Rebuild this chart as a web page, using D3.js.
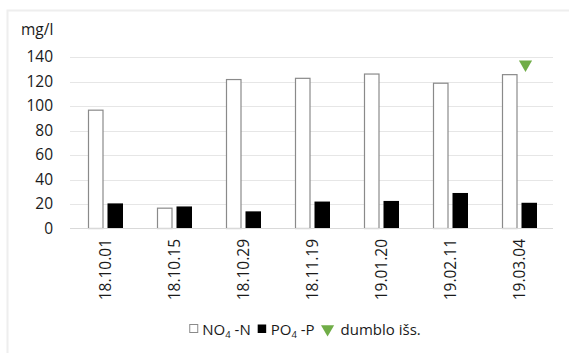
<!DOCTYPE html>
<html>
<head>
<meta charset="utf-8">
<script src="https://cdn.jsdelivr.net/npm/d3@7"></script>
<style>
  html, body { margin: 0; padding: 0; background: #fff; }
  svg { display: block; font-family: "Open Sans", sans-serif; }
</style>
</head>
<body>
<svg id="chart" width="569" height="353"></svg>
<script>
// Sampling dates
const categories = ["18.10.01", "18.10.15", "18.10.29", "18.11.19", "19.01.20", "19.02.11", "19.03.04"];
// NO4-N concentration, mg/l
const no4Values = [97, 17, 122, 123, 126.5, 119, 126];
// PO4-P concentration, mg/l
const po4Values = [20.5, 18, 14, 22, 22.5, 29, 21];
// Sludge release marker (only on the last date)
const sludgeValues = [null, null, null, null, null, null, 134];
// Y axis ticks
const yTicks = [0, 20, 40, 60, 80, 100, 120, 140];

const svg = d3.select("#chart");
const W = 569, H = 353;
const textColor = "#1a1a1a";
const fontSize = 15.5;

// outer frame
svg.append("rect")
  .attr("x", 7.5).attr("y", 10.5)
  .attr("width", W + 10).attr("height", H + 10)
  .attr("fill", "none").attr("stroke", "#eeeeee").attr("stroke-width", 2);

const plot = { left: 71, right: 554, top: 57, bottom: 228.5 };

const x = d3.scaleBand().domain(categories).range([plot.left, plot.right]).padding(0);
const inner = d3.scaleBand().domain(["no4", "po4"]).range([-17.5, 17.5]).paddingInner(0.205);
const y = d3.scaleLinear().domain([0, 140]).range([plot.bottom, plot.top]);

// gridlines
svg.append("g").selectAll("line").data(yTicks.filter(t => t > 0)).join("line")
  .attr("x1", plot.left - 1).attr("x2", plot.right - 1)
  .attr("y1", d => Math.round(y(d)) + 0.5).attr("y2", d => Math.round(y(d)) + 0.5)
  .attr("stroke", "#e6e6e6").attr("stroke-width", 1.2);

// y axis labels
const yAxis = d3.axisLeft(y).tickValues(yTicks).tickSize(0).tickPadding(0);
const gy = svg.append("g").attr("transform", "translate(53,0)").call(yAxis);
gy.select(".domain").remove();
gy.selectAll("text")
  .attr("font-family", "Open Sans, sans-serif")
  .attr("font-size", fontSize).attr("fill", textColor).attr("x", 0);

// axis title
svg.append("text").attr("x", 21).attr("y", 35)
  .attr("font-size", fontSize).attr("fill", textColor).text("mg/l");

// bars
const groups = svg.append("g").selectAll("g").data(categories).join("g")
  .attr("transform", d => `translate(${x(d) + x.bandwidth() / 2},0)`);

groups.append("rect")
  .attr("x", inner("no4") + 0.5)
  .attr("width", inner.bandwidth() - 1)
  .attr("y", (d, i) => y(no4Values[i]) + 0.5)
  .attr("height", (d, i) => y(0) - y(no4Values[i]) - 0.5)
  .attr("fill", "#ffffff").attr("stroke", "#8a8a8a").attr("stroke-width", 1.2);

groups.append("rect")
  .attr("x", inner("po4"))
  .attr("width", inner.bandwidth())
  .attr("y", (d, i) => y(po4Values[i]))
  .attr("height", (d, i) => y(0) - y(po4Values[i]))
  .attr("fill", "#000000");

// x axis line
svg.append("line")
  .attr("x1", plot.left - 1).attr("x2", plot.right - 1)
  .attr("y1", y(0)).attr("y2", y(0))
  .attr("stroke", "#d9d9d9").attr("stroke-width", 1.2);

// sludge marker
const tri = d3.symbol().type(d3.symbolTriangle).size(75);
svg.append("g").selectAll("path")
  .data(categories.map((c, i) => ({ c, v: sludgeValues[i] })).filter(d => d.v != null))
  .join("path")
  .attr("d", tri)
  .attr("transform", d => `translate(${x(d.c) + x.bandwidth() / 2 + 6},${y(d.v)}) rotate(180)`)
  .attr("fill", "#70ad47");

// category labels (rotated)
svg.append("g").selectAll("text").data(categories).join("text")
  .attr("transform", d => `translate(${x(d) + x.bandwidth() / 2 + 5.5},239) rotate(-90)`)
  .attr("text-anchor", "end")
  .attr("font-size", fontSize).attr("fill", textColor)
  .text(d => d);

// legend: items laid out left to right, then the row is centred
const legendItems = [
  { key: "no4", main: "NO", sub: "4", tail: " -N" },
  { key: "po4", main: "PO", sub: "4", tail: " -P" },
  { key: "sludge", main: "dumblo išs.", sub: null, tail: null }
];
const itemGap = 7;
const legend = svg.append("g").attr("transform", "translate(0,329)");
let cursor = 0;
legendItems.forEach(item => {
  const g = legend.append("g").attr("transform", `translate(${cursor},0)`);
  let swatchW;
  if (item.key === "no4") {
    g.append("rect").attr("x", 0.5).attr("y", -4.5).attr("width", 8).attr("height", 8)
      .attr("fill", "#fff").attr("stroke", "#8a8a8a").attr("stroke-width", 1);
    swatchW = 9;
  } else if (item.key === "po4") {
    g.append("rect").attr("x", 0).attr("y", -4.5).attr("width", 8.5).attr("height", 8.5).attr("fill", "#000");
    swatchW = 9;
  } else {
    g.append("path").attr("d", tri).attr("transform", "translate(6,0) rotate(180)").attr("fill", "#70ad47");
    swatchW = 12;
  }
  const tx = swatchW + (item.key === "sludge" ? 7 : 4);
  const t = g.append("text").attr("x", tx).attr("y", 5.5).attr("font-size", 15).attr("fill", textColor);
  t.append("tspan").text(item.main);
  if (item.sub) {
    t.append("tspan").attr("font-size", 9.5).attr("dy", 3).text(item.sub);
    t.append("tspan").attr("dy", -3).text(item.tail);
  }
  cursor += tx + t.node().getComputedTextLength() + itemGap;
});
const legendWidth = cursor - itemGap;
legend.attr("transform", `translate(${305 - legendWidth / 2},329)`);
</script>
</body>
</html>
